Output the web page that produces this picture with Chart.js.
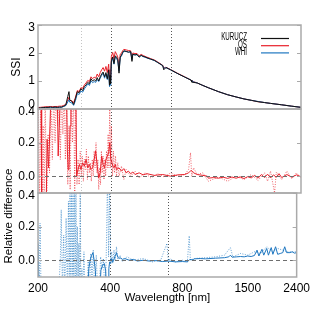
<!DOCTYPE html>
<html>
<head>
<meta charset="utf-8">
<script src="https://cdn.jsdelivr.net/npm/chart.js@4.4.0/dist/chart.umd.min.js"></script>
<style>
  html, body { margin: 0; padding: 0; background: #fff; }
  #wrap { position: relative; width: 314px; height: 311px; }
  #wrap canvas { position: absolute; left: 0; top: 0; }
  #reldiff { position: absolute; left: -42px; top: 210px; width: 100px; height: 12px; line-height: 12px;
    text-align: center; transform: rotate(-90deg); transform-origin: 50px 6px;
    font: 11.5px 'Liberation Sans', Arial, sans-serif; white-space: nowrap; color: #000; }
</style>
</head>
<body>
<div id="wrap">
  <canvas id="ssiChart" width="314" height="311"></canvas>
  <canvas id="qsChart" width="314" height="311"></canvas>
  <canvas id="whiChart" width="314" height="311"></canvas>
  <div id="reldiff">Relative difference</div>
</div>
<script>
const FONT = "'Liberation Sans', Arial, sans-serif";

// x axis
const xTicks = [200, 400, 800, 1500, 2400];
const markLines = [300, 400, 700];

// top panel: spectral irradiance
const ssiWave = [
  200, 205, 210, 215, 220, 225, 230, 235, 240, 245,
  250, 255, 260, 265, 268, 270, 275, 280, 285, 290,
  295, 300, 305, 310, 315, 320, 325, 330, 335, 340,
  345, 350, 355, 360, 365, 370, 375, 380, 385, 390,
  393, 395, 397, 400, 405, 410, 415, 420, 425, 430,
  435, 440, 445, 450, 460, 470, 480, 486, 490, 500,
  510, 520, 530, 540, 550, 560, 580, 600, 620, 650,
  656, 670, 700, 750, 800, 850, 855, 900, 950, 1000,
  1100, 1200, 1300, 1400, 1500, 1600, 1700, 1800, 2000, 2200, 2400];
const kurucz = [
  .03, .04, .05, .06, .06, .07, .06, .07, .06, .07,
  .07, .10, .14, .45, .62, .32, .28, .16, .38, .62,
  .58, .72, .66, .80, .86, .95, .90, 1.08, 1.00, 1.05,
  1.00, 1.12, 1.00, 1.15, 1.25, 1.32, 1.15, 1.30, 1.08, 1.40,
  .85, 1.20, .90, 1.72, 1.86, 1.62, 1.90, 1.85, 1.76, 1.28,
  1.86, 1.92, 2.02, 2.08, 2.06, 2.03, 2.05, 1.70, 1.96, 1.93,
  1.95, 1.85, 1.92, 1.88, 1.86, 1.83, 1.78, 1.74, 1.66, 1.55,
  1.40, 1.48, 1.40, 1.26, 1.14, 1.03, .96, .93, .84, .76,
  .62, .51, .43, .36, .31, .26, .23, .20, .15, .10, .06];
const qsSsi = [
  .05, .06, .07, .08, .08, .09, .08, .09, .09, .10,
  .10, .13, .16, .32, .42, .30, .30, .22, .42, .66,
  .62, .76, .74, .86, .93, 1.02, .98, 1.15, 1.08, 1.14,
  1.10, 1.25, 1.15, 1.30, 1.40, 1.48, 1.35, 1.52, 1.30, 1.60,
  1.00, 1.40, 1.05, 1.88, 2.02, 1.80, 2.05, 1.96, 1.86, 1.45,
  1.96, 1.99, 2.08, 2.13, 2.11, 2.09, 2.08, 1.80, 2.00, 1.98,
  1.98, 1.90, 1.95, 1.91, 1.88, 1.85, 1.80, 1.75, 1.68, 1.56,
  1.47, 1.49, 1.41, 1.27, 1.15, 1.03, 1.00, .93, .84, .76,
  .62, .51, .43, .36, .31, .26, .23, .20, .15, .10, .06];
const whiSsi = [
  .02, .03, .04, .05, .05, .06, .05, .06, .05, .06,
  .06, .09, .12, .25, .33, .24, .22, .13, .30, .55,
  .52, .64, .60, .72, .80, .90, .84, 1.00, .94, .98,
  .95, 1.05, .98, 1.10, 1.20, 1.28, 1.10, 1.25, 1.05, 1.35,
  .80, 1.15, .85, 1.66, 1.82, 1.60, 1.86, 1.80, 1.72, 1.35,
  1.83, 1.89, 1.99, 2.06, 2.05, 2.03, 2.04, 1.76, 1.95, 1.93,
  1.94, 1.86, 1.91, 1.87, 1.85, 1.82, 1.78, 1.73, 1.66, 1.55,
  1.45, 1.48, 1.40, 1.26, 1.14, 1.03, .99, .93, .84, .76,
  .62, .51, .43, .36, .31, .27, .23, .20, .15, .10, .06];
const ssiTicks = [0, 1, 2, 3];

// middle panel: QS relative difference
const qsWave = [
  200, 206, 207, 216, 218, 221, 224, 226, 240, 242,
  246, 250, 256, 262, 264, 266, 268, 271, 273, 286,
  288, 290, 293, 296, 300, 305, 310, 315, 320, 325,
  330, 335, 340, 345, 350, 355, 360, 365, 370, 375,
  380, 385, 390, 394, 398, 402, 406, 410, 415, 420,
  430, 440, 450, 460, 470, 480, 490, 500, 520, 540,
  560, 600, 650, 700, 750, 800, 830, 850, 870, 900,
  950, 990, 1000, 1050, 1100, 1150, 1200, 1250, 1300, 1350,
  1400, 1450, 1500, 1550, 1600, 1650, 1700, 1750, 1800, 1850,
  1900, 1950, 2000, 2100, 2200, 2300, 2400];
const qsDiff = [
  .5, .5, -.2, -.2, .22, .05, .3, .5, .5, .12,
  .4, .5, .5, .5, .15, .04, .05, .3, .5, .5,
  .0, .02, .05, .07, .04, .08, .06, .1, .05, .07,
  .04, .05, .1, .15, .06, -.01, .02, .12, .07, .05,
  .1, .12, .14, .2, .1, .08, .06, .05, .07, .04,
  .05, .03, .045, .02, .03, .015, .025, .01, .02, .008,
  .015, .005, .01, .0, .008, .01, .02, .035, .02, .01,
  .005, .0, -.012, -.008, -.012, -.006, -.013, -.005, -.012, -.004,
  -.014, -.003, -.01, .005, -.012, .01, -.008, .012, -.01, .008,
  -.006, .015, -.008, .01, -.006, .008, -.004];
const qsRawWave = [
  200, 203, 205, 208, 210, 212, 214, 217, 220, 223,
  226, 229, 232, 235, 238, 241, 244, 247, 250, 253,
  256, 259, 262, 265, 268, 271, 274, 277, 280, 283,
  286, 289, 292, 295, 298, 301, 304, 307, 310, 313,
  316, 319, 322, 325, 328, 331, 334, 337, 340, 343,
  346, 349, 352, 355, 358, 361, 364, 367, 370, 373,
  376, 379, 382, 385, 388, 391, 394, 397, 400, 404,
  408, 412, 416, 420, 425, 430, 440, 450, 460, 480,
  500, 520, 550, 580, 620, 660, 700, 750, 800, 830,
  845, 855, 870, 900, 950, 1000, 1100, 1200, 1300, 1400,
  1500, 1600, 1700, 1750, 1800, 1870, 1900, 2000, 2100, 2200,
  2300, 2400];
const qsRaw = [
  .5, -.2, .5, -.2, .3, -.2, .5, -.2, .25, .02,
  .5, .1, .5, .2, .5, .3, .5, .1, .5, .25,
  .5, .1, .5, -.05, .3, -.08, .5, .2, .5, -.1,
  .5, -.05, .1, -.05, .15, .0, .12, -.03, .1, .04,
  .16, -.02, .12, .02, .08, -.03, .1, .0, .15, .05,
  .2, .02, .1, -.08, .05, -.05, .15, .02, .12, -.02,
  .1, .0, .15, .05, .25, .05, .45, .05, .3, .0,
  .15, .02, .12, .0, .08, .0, .06, -.02, .04, .0,
  .03, -.01, .02, -.01, .015, -.005, .02, .0, .01, .04,
  .14, .0, .05, .01, .02, -.03, -.005, -.03, .0, -.02,
  .01, -.025, .02, -.03, .03, -.1, .025, -.02, .03, -.015,
  .02, -.01];
const diffTicks = [0, 0.2, 0.4];

// bottom panel: WHI relative difference
const whiWave = [
  200, 202, 322, 326, 330, 335, 339, 343, 347, 350,
  362, 366, 372, 378, 383, 387, 392, 395, 398, 402,
  406, 410, 414, 418, 422, 425, 430, 435, 440, 450,
  460, 480, 500, 520, 550, 580, 620, 660, 700, 750,
  800, 840, 860, 880, 900, 950, 1000, 1100, 1200, 1250,
  1270, 1290, 1350, 1400, 1450, 1500, 1550, 1600, 1640, 1670,
  1720, 1750, 1800, 1830, 1880, 1910, 1960, 2000, 2050, 2100,
  2140, 2180, 2250, 2300, 2350, 2400];
const whiDiff = [
  .1, -.2, -.2, -.05, .0, .03, .045, .0, -.06, -.2,
  -.2, -.06, -.03, -.02, -.06, -.2, -.2, -.05, -.01, -.02,
  .01, -.01, .0, .02, .03, .045, .02, .01, .015, .005,
  .01, .0, .005, -.005, .0, -.005, -.002, -.008, -.005, -.01,
  -.008, -.01, .005, .002, .008, .01, .008, .012, .015, .02,
  .03, .018, .02, .022, .02, .025, .022, .028, .06, .025,
  .065, .03, .07, .03, .075, .035, .08, .035, .04, .045,
  .08, .045, .045, .05, .042, .045];
const whiRawWave = [
  200, 202, 204, 206, 210, 214, 220, 226, 232, 238,
  244, 248, 250, 253, 256, 259, 262, 265, 268, 270,
  272, 274, 276, 278, 280, 282, 284, 286, 288, 290,
  292, 294, 296, 298, 300, 302, 305, 308, 311, 314,
  317, 320, 324, 328, 332, 336, 340, 345, 350, 355,
  360, 365, 370, 375, 380, 385, 390, 394, 398, 402,
  406, 410, 415, 420, 425, 430, 440, 450, 470, 500,
  550, 600, 650, 690, 700, 710, 750, 800, 840, 855,
  865, 900, 1000, 1100, 1200, 1270, 1300, 1400, 1500, 1600,
  1700, 1800, 1900, 2000, 2200, 2400];
const whiRaw = [
  .2, -.2, .22, -.2, -.2, -.2, -.2, -.2, -.2, -.2,
  -.2, .02, .3, -.2, .15, -.2, .25, -.2, .35, -.2,
  .5, -.2, .5, -.2, .5, -.2, .5, -.1, .5, -.2,
  .2, -.2, .1, -.2, .5, -.2, -.05, -.2, .05, -.2,
  -.2, -.2, .0, -.2, .04, -.1, .06, -.2, .03, -.2,
  -.2, .02, -.05, .01, -.2, .0, .5, .02, .4, .0,
  .05, -.02, .06, .0, .08, .01, .03, -.01, .02, .0,
  .01, -.01, .0, .1, -.01, .01, -.01, .0, -.01, .145,
  .0, .01, .015, .02, .03, .075, .02, .04, .03, .05,
  .04, .08, .05, .07, .05, .05];

function pts(xs, ys) { return xs.map((x, i) => ({ x: x, y: ys[i] })); }

function line(label, xs, ys, color, dotted) {
  return {
    label: label, data: pts(xs, ys), borderColor: color, borderWidth: 1,
    borderDash: dotted ? [1, 1.5] : [], pointRadius: 0, tension: 0, clip: 0
  };
}

function panelPlugin(cfg) {
  return {
    id: 'panel',
    beforeDatasetsDraw(chart) {
      const { ctx, chartArea: a, scales } = chart;
      ctx.save();
      ctx.lineWidth = 1;
      ctx.setLineDash([1, 2]);
      markLines.forEach((w, i) => {
        const px = Math.round(scales.x.getPixelForValue(w)) + 0.5;
        ctx.strokeStyle = i === 0 ? '#c4c4c4' : '#555';
        ctx.beginPath(); ctx.moveTo(px, a.top); ctx.lineTo(px, a.bottom); ctx.stroke();
      });
      ctx.restore();
    },
    afterDatasetsDraw(chart) {
      const { ctx, chartArea: a, scales } = chart;
      const y = scales.y;
      ctx.save();
      if (cfg.zero) {
        const py = Math.round(y.getPixelForValue(0)) + 0.5;
        ctx.strokeStyle = '#6e6e6e';
        ctx.lineWidth = 1;
        ctx.setLineDash([4, 3]);
        ctx.beginPath(); ctx.moveTo(a.left, py); ctx.lineTo(a.right, py); ctx.stroke();
        ctx.setLineDash([]);
      }
      ctx.strokeStyle = '#aaa';
      ctx.lineWidth = 1.5;
      ctx.strokeRect(a.left, a.top, a.right - a.left, a.bottom - a.top);
      ctx.lineWidth = 1;
      cfg.ticks.forEach(v => {
        const py = Math.round(y.getPixelForValue(v)) + 0.5;
        ctx.beginPath();
        ctx.moveTo(a.left, py); ctx.lineTo(a.left + 4, py);
        ctx.moveTo(a.right, py); ctx.lineTo(a.right - 4, py);
        ctx.stroke();
      });
      ctx.fillStyle = '#000';
      ctx.font = '12px ' + FONT;
      ctx.textAlign = 'right';
      ctx.textBaseline = 'middle';
      cfg.ticks.forEach((v, i) => {
        let py = y.getPixelForValue(v);
        if (v === y.max) py += 3;
        if (v === y.min) py -= 4;
        ctx.fillText(cfg.labels[i], a.left - 3, py);
      });
      if (cfg.legend) {
        cfg.legend.forEach((name, i) => {
          const ds = chart.data.datasets.find(d => d.label === name);
          const ly = 38.5 + i * 7.2;
          ctx.strokeStyle = ds.borderColor;
          ctx.lineWidth = 1.2;
          ctx.beginPath(); ctx.moveTo(261, ly); ctx.lineTo(289, ly); ctx.stroke();
          ctx.save();
          ctx.translate(247, ly - 0.8);
          ctx.scale(0.62, 1);
          ctx.font = '10px ' + FONT;
          ctx.fillStyle = '#000';
          ctx.fillText(name, 0, 0);
          ctx.restore();
        });
      }
      ctx.restore();
    }
  };
}

function makePanel(id, datasets, yMin, yMax, cfg, pad, bottomAxis, yTitle) {
  const xScale = {
    type: 'logarithmic', min: 200, max: 2400, display: bottomAxis,
    afterBuildTicks: s => { s.ticks = xTicks.map(v => ({ value: v })); },
    grid: { display: false, drawTicks: false },
    border: { display: false },
    ticks: {
      autoSkip: false, maxRotation: 0, padding: 4, color: '#000',
      font: { family: FONT, size: 12 },
      callback: v => (xTicks.includes(v) ? String(v) : '')
    },
    title: {
      display: true, text: 'Wavelength [nm]', color: '#000',
      font: { family: FONT, size: 11.5 }, padding: { top: 0, bottom: 6 }
    },
    afterFit: s => { s.height = bottomAxis ? 34 : 0; }
  };
  return new Chart(document.getElementById(id), {
    type: 'line',
    data: { datasets: datasets },
    options: {
      responsive: false, animation: false, events: [],
      layout: { padding: { top: pad[0], bottom: pad[1], left: 0, right: 13 } },
      plugins: { legend: { display: false }, tooltip: { enabled: false } },
      scales: {
        x: xScale,
        y: {
          type: 'linear', min: yMin, max: yMax,
          ticks: { display: false }, grid: { display: false }, border: { display: false },
          title: {
            display: !!yTitle, text: yTitle || '', color: '#000',
            font: { family: FONT, size: 12 }, padding: { top: 9, bottom: 0 }
          },
          afterFit: s => { s.width = 38; }
        }
      }
    },
    plugins: [panelPlugin(cfg)]
  });
}

makePanel('ssiChart', [
  line('KURUCZ', ssiWave, kurucz, '#111'),
  line('WHI', ssiWave, whiSsi, '#1f77c0'),
  line('QS', ssiWave, qsSsi, '#e8202a')
], 0, 3, { ticks: ssiTicks, labels: ['0', '1', '2', '3'], legend: ['KURUCZ', 'QS', 'WHI'] }, [25, 202], false, 'SSI');

makePanel('qsChart', [
  line('QS', qsWave, qsDiff, '#e8202a'),
  line('QS raw', qsRawWave, qsRaw, 'rgba(232,32,42,0.7)', true)
], -0.1, 0.4, { ticks: diffTicks, labels: ['0.0', '0.2', '0.4'], zero: true }, [109, 118], false, null);

makePanel('whiChart', [
  line('WHI', whiWave, whiDiff, '#1f77c0'),
  line('WHI raw', whiRawWave, whiRaw, 'rgba(31,119,192,0.7)', true)
], -0.1, 0.4, { ticks: diffTicks, labels: ['0.0', '0.2', '0.4'], zero: true }, [193, 0], true, null);
</script>
</body>
</html>
